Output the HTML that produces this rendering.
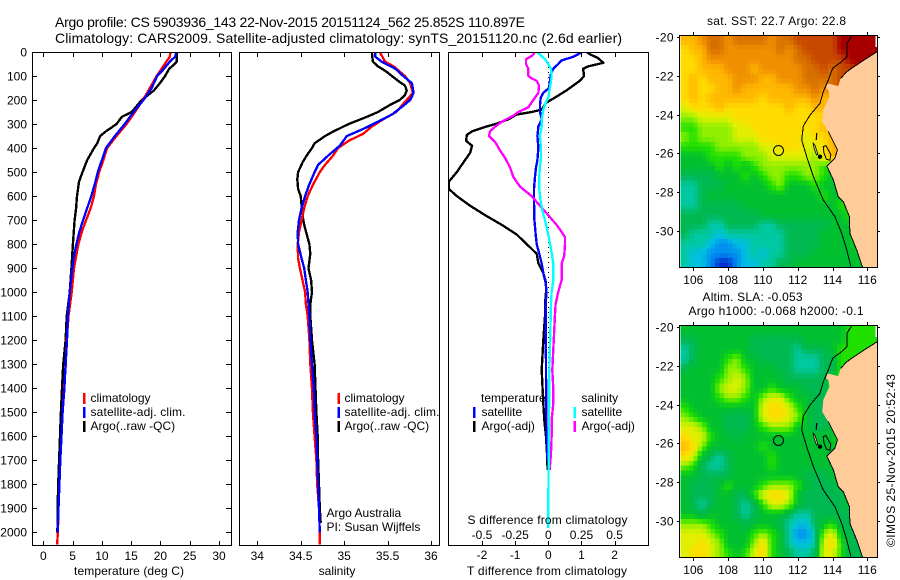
<!DOCTYPE html>
<html lang="en">
<head>
<meta charset="utf-8">
<title>Argo profile 5903936_143</title>
<style>
html,body{margin:0;padding:0;background:#fff;}
svg{display:block;}
text{font-family:"Liberation Sans",sans-serif;font-size:12px;fill:#000;}
.t14{font-size:14px;}
</style>
</head>
<body>
<svg id="chart" xmlns="http://www.w3.org/2000/svg" width="900" height="580" viewBox="0 0 900 580">
<rect x="0" y="0" width="900" height="580" fill="#fff"/>
<text class="t14" x="55" y="27" textLength="470">Argo profile: CS 5903936_143 22-Nov-2015 20151124_562 25.852S 110.897E</text>
<text class="t14" x="55" y="43" textLength="567">Climatology: CARS2009. Satellite-adjusted climatology: synTS_20151120.nc (2.6d earlier)</text>

<defs>
<clipPath id="clipA"><rect x="33" y="52" width="198" height="493"/></clipPath>
<clipPath id="clipB"><rect x="240" y="52" width="199" height="493"/></clipPath>
<clipPath id="clipC"><rect x="449" y="52" width="199" height="493"/></clipPath>
<clipPath id="clipM1"><rect x="680" y="35" width="197" height="232"/></clipPath>
<clipPath id="clipM2"><rect x="680" y="325" width="197" height="232"/></clipPath>
</defs>

<g id="panel-temp"></g>
<g id="panel-sal"></g>
<g id="panel-diff"></g>
<g id="map-sst"></g>
<g id="map-sla"></g>

<text x="129" y="575" text-anchor="middle" textLength="110">temperature (deg C)</text>
<text x="337" y="575" text-anchor="middle">salinity</text>
<text x="467" y="575" textLength="160">T difference from climatology</text>
<text x="467.5" y="524" textLength="160">S difference from climatology</text>

<g>
<rect x="83" y="393" width="2.5" height="11" fill="#f00"/>
<rect x="83" y="407" width="2.5" height="11" fill="#00f"/>
<rect x="83" y="421" width="2.5" height="11" fill="#000"/>
<text x="90.5" y="402">climatology</text>
<text x="90.5" y="416" textLength="95">satellite-adj. clim.</text>
<text x="90.5" y="430">Argo(..raw -QC)</text>
</g>
<g>
<rect x="337.5" y="393" width="2.5" height="11" fill="#f00"/>
<rect x="337.5" y="407" width="2.5" height="11" fill="#00f"/>
<rect x="337.5" y="421" width="2.5" height="11" fill="#000"/>
<text x="344.5" y="402">climatology</text>
<text x="344.5" y="416" textLength="95">satellite-adj. clim.</text>
<text x="344.5" y="430">Argo(..raw -QC)</text>
<text x="326.5" y="517">Argo Australia</text>
<text x="326.5" y="531">PI: Susan Wijffels</text>
</g>
<g>
<text x="481" y="402">temperature</text>
<text x="581.5" y="402">salinity</text>
<rect x="473" y="407" width="2.5" height="11" fill="#00f"/>
<rect x="473" y="421" width="2.5" height="11" fill="#000"/>
<rect x="573.5" y="407" width="2.5" height="11" fill="#0ff"/>
<rect x="573.5" y="421" width="2.5" height="11" fill="#f0f"/>
<text x="481.5" y="416">satellite</text>
<text x="481.5" y="430">Argo(-adj)</text>
<text x="581.5" y="416">satellite</text>
<text x="581.5" y="430">Argo(-adj)</text>
</g>

<text x="707" y="25" textLength="139">sat. SST: 22.7 Argo: 22.8</text>
<text x="702.5" y="301" textLength="100">Altim. SLA: -0.053</text>
<text x="688.5" y="315" textLength="175">Argo h1000: -0.068 h2000: -0.1</text>
<text transform="translate(895,547) rotate(-90)" textLength="173">©IMOS 25-Nov-2015 20:52:43</text>
</svg>

<script>
// ---- depth axis ----
const depthTicks = [0,100,200,300,400,500,600,700,800,900,1000,1100,1200,1300,1400,1500,1600,1700,1800,1900,2000];

// ---- temperature panel ----
const tempTicks = [0,5,10,15,20,25,30];
const tempArgoDepth = [0,40,55,70,100,130,160,200,250,270,300,330,350,380,400,450,500,540,600,650,700,800,900,1000,1100,1200,1300,1400,1500,1600,1700,1800,1900,2000];
const tempArgo = [22.8,22.8,22.2,21.5,20.8,19.9,18.9,16.8,15.1,13.4,12.5,10.7,9.7,9.2,8.65,7.5,6.7,6.1,5.75,5.6,5.35,5.05,4.8,4.5,4.0,3.8,3.4,3.2,3.0,2.85,2.7,2.55,2.45,2.4];
const tempClimDepth = [0,20,40,70,100,150,200,250,300,350,400,450,500,550,600,650,700,750,800,850,900,1000,1100,1200,1300,1400,1500,1600,1700,1800,1900,2000,2050];
const tempClim = [21.7,21.6,21.0,20.2,19.35,18.2,17.0,15.65,14.2,12.5,10.9,10.25,9.55,9.0,8.65,8.1,7.3,6.55,6.0,5.6,5.25,4.85,4.3,4.0,3.85,3.55,3.3,3.1,2.9,2.75,2.6,2.5,2.35];
const tempSatDepth = [0,20,40,70,100,150,200,250,300,350,400,450,500,550,600,650,700,750,800,850,900,1000,1100,1200,1300,1400,1500,1600,1700,1800,1900,2000];
const tempSat = [22.7,22.5,21.6,20.6,19.45,18.5,17.1,15.4,13.9,12.2,10.7,10.0,9.3,8.8,8.2,7.5,6.8,6.15,5.65,5.25,4.95,4.5,4.2,4.05,3.8,3.6,3.3,3.1,2.9,2.75,2.6,2.45];

// ---- salinity panel ----
const salTicks = [34,34.5,35,35.5,36];
const salArgoDepth = [0,40,60,80,100,120,140,160,180,200,220,250,270,300,330,350,380,400,430,460,500,530,570,600,640,680,720,760,800,840,900,950,1000,1050,1100,1200,1300,1400,1500,1600,1700,1800,1900,1960];
const salArgo = [35.32,35.33,35.39,35.48,35.55,35.62,35.70,35.72,35.70,35.64,35.53,35.39,35.26,35.05,34.88,34.78,34.66,34.63,34.57,34.52,34.47,34.46,34.47,34.5,34.51,34.52,34.54,34.57,34.6,34.61,34.59,34.62,34.63,34.61,34.61,34.63,34.66,34.67,34.68,34.695,34.70,34.71,34.72,34.73];
const salClimDepth = [0,40,60,100,130,170,200,250,280,310,340,370,400,430,470,500,550,600,650,700,750,800,860,900,950,1000,1050,1100,1200,1300,1400,1500,1600,1700,1800,1900,2000,2050];
const salClim = [35.41,35.47,35.57,35.70,35.76,35.79,35.72,35.6,35.45,35.32,35.22,35.05,34.93,34.875,34.78,34.72,34.645,34.58,34.54,34.51,34.48,34.465,34.47,34.49,34.52,34.55,34.56,34.58,34.6,34.61,34.63,34.64,34.66,34.68,34.69,34.71,34.72,34.72];
const salSatDepth = [0,20,40,70,100,130,170,200,230,260,290,320,350,390,430,470,500,550,600,650,700,750,800,860,900,950,1000,1050,1100,1200,1300,1400,1500,1600,1700,1800,1900,2000];
const salSat = [35.36,35.36,35.43,35.59,35.68,35.78,35.80,35.76,35.66,35.55,35.39,35.22,35.03,34.95,34.82,34.70,34.66,34.6,34.55,34.51,34.48,34.465,34.47,34.51,34.54,34.56,34.58,34.59,34.6,34.61,34.63,34.65,34.66,34.68,34.69,34.7,34.71,34.72];

// ---- difference panel ----
const diffTTicks = [-2,-1,0,1,2];
const diffSTicks = [-0.5,-0.25,0,0.25,0.5];
const diffTArgoDepth = [0,10,25,45,60,70,100,120,140,160,190,210,240,250,260,280,300,310,330,345,370,390,420,460,500,540,570,600,640,680,720,760,800,840,880,920,960,1000,1050,1100,1200,1324,1463,1532,1601,1671,1740];
const diffTArgo = [1.16,1.26,1.5,1.66,1.2,1.05,1.08,0.95,0.75,0.55,0.2,-0.05,-0.2,-0.5,-0.95,-1.2,-1.6,-1.86,-2.3,-2.46,-2.48,-2.3,-2.36,-2.56,-2.76,-3,-3,-2.76,-2.36,-1.9,-1.4,-0.95,-0.65,-0.35,-0.3,-0.15,-0.07,-0.07,-0.1,-0.1,-0.15,-0.2,-0.15,-0.12,-0.07,-0.04,-0.02];
const diffTSatDepth = [0,10,20,35,50,70,90,120,150,170,190,220,250,280,310,350,400,450,480,520,570,620,700,760,800,840,880,920,960,1000,1050,1324,1463,1601,1700];
const diffTSat = [1.0,0.9,0.75,0.4,0.3,0.15,0.08,0.05,0.02,-0.15,-0.23,-0.25,-0.25,-0.2,-0.3,-0.33,-0.3,-0.33,-0.37,-0.4,-0.43,-0.43,-0.42,-0.38,-0.35,-0.27,-0.2,-0.15,-0.08,-0.05,-0.08,-0.07,-0.06,-0.05,-0.02];
const diffSSatDepth = [0,10,30,50,70,100,130,160,190,210,240,280,310,350,400,440,480,520,570,620,660,700,760,820,880,950,1000,1050,1324,1879,1982];
const diffSSat = [-0.088,-0.063,-0.025,0,0.02,0.025,0.018,0.008,0,-0.018,-0.038,-0.05,-0.05,-0.063,-0.055,-0.055,-0.063,-0.068,-0.068,-0.058,-0.045,-0.025,0,0.02,0.038,0.038,0.025,0.02,0.008,0,0];
const diffSArgoDepth = [0,15,30,50,70,100,110,120,140,170,200,230,250,265,290,310,330,350,375,410,440,480,520,560,600,640,680,720,770,800,850,880,950,1000,1050,1100,1324,1400,1463,1532,1601,1671,1740];
const diffSArgo = [-0.1,-0.12,-0.168,-0.168,-0.15,-0.15,-0.125,-0.088,-0.07,-0.075,-0.113,-0.15,-0.226,-0.264,-0.35,-0.4,-0.44,-0.447,-0.4,-0.364,-0.327,-0.289,-0.264,-0.214,-0.126,-0.063,0,0.063,0.126,0.126,0.12,0.1,0.1,0.075,0.055,0.05,0.03,0.038,0.038,0.025,0.025,0.02,0.01];

// ---- maps ----
const lonTicks = [106,108,110,112,114,116];
const latTicks = [-20,-22,-24,-26,-28,-30];
const levelColors = ['#0030d0','#0090f0','#00c0e0','#00c8a0','#00b850','#00c030','#20e000','#90f000','#e0f000','#ffdc00','#ffb800','#f09000','#d87000','#c84800','#a80000'];
const sstLevels = [
[10,10,11,12,12,11,12,12,12,12,11,12,12,13,13,13,13,13,14,14,14,14,14],
[9,10,10,12,12,11,11,11,11,11,11,12,11,12,13,13,13,13,14,14,14,14,14],
[9,9,10,11,11,11,11,11,11,11,11,11,11,12,12,13,13,13,13,14,14,14,14],
[9,9,10,10,10,11,11,11,10,11,11,11,11,11,12,12,13,12,13,13,14,14,14],
[9,10,9,10,10,10,11,11,11,10,10,11,11,11,12,12,12,12,13,13,14,14,14],
[9,10,9,9,10,10,11,10,10,10,10,10,10,11,11,12,11,12,13,13,13,13,13],
[9,10,9,10,10,10,10,10,10,9,10,10,10,10,10,11,10,10,11,11,11,11,11],
[8,9,9,9,10,9,9,9,9,9,9,9,10,9,9,10,10,10,10,10,10,10,10],
[7,7,8,8,8,8,9,9,9,9,9,9,9,9,9,9,9,10,10,10,10,10,10],
[6,6,7,7,7,7,8,8,9,9,9,9,9,9,9,9,10,10,10,10,10,10,10],
[7,6,7,7,7,7,8,8,8,9,9,9,9,9,8,9,9,10,11,11,11,11,11],
[6,6,6,6,7,7,7,7,7,8,8,9,9,9,8,8,9,10,11,11,11,11,11],
[5,5,5,6,6,6,6,7,7,7,8,8,8,8,8,7,9,10,10,10,10,10,10],
[5,5,5,5,6,5,6,5,6,7,7,7,7,7,7,7,6,6,6,6,6,6,6],
[4,4,4,4,5,5,5,6,5,6,7,7,6,6,7,7,6,5,6,6,6,6,6],
[3,3,4,4,4,5,5,5,5,5,6,7,5,5,5,6,5,5,5,6,6,6,6],
[3,3,4,5,5,5,5,5,5,5,5,5,5,5,5,5,6,5,5,5,6,6,6],
[3,3,4,4,4,4,4,5,5,5,5,5,5,5,5,5,5,5,6,6,6,6,6],
[4,4,4,4,4,4,4,4,4,5,5,5,5,5,5,5,5,5,5,6,6,6,6],
[4,4,4,3,3,4,4,4,4,3,3,4,4,4,4,4,4,5,5,5,6,6,6],
[4,3,3,3,2,3,3,3,3,3,3,3,4,4,4,4,5,5,5,5,6,6,6],
[3,3,3,2,1,1,2,2,3,3,3,3,4,4,4,4,5,5,5,5,6,6,6],
[3,2,2,1,1,1,1,2,3,2,3,3,4,4,4,5,5,5,5,5,5,6,6],
[3,2,2,1,0,0,1,2,2,3,3,4,4,5,5,5,5,5,5,5,5,5,6]
];
const slaLevels = [
[5,5,5,5,5,5,5,5,5,5,5,5,5,5,5,5,5,5,5,6,6,6,6],
[4,4,5,5,5,5,5,5,4,4,4,4,4,4,5,5,5,5,5,6,6,6,6],
[3,4,5,5,5,5,5,5,4,4,4,4,4,3,4,4,4,5,6,6,6,6,6],
[3,4,5,5,5,6,7,5,5,4,4,4,4,3,3,3,4,4,6,6,6,6,6],
[4,5,5,5,5,7,7,6,5,5,5,4,4,3,3,3,4,4,6,6,6,6,6],
[5,5,5,5,6,7,8,7,5,5,5,5,4,4,4,4,4,5,6,6,6,6,6],
[5,5,5,5,7,8,8,7,5,5,6,5,5,5,4,4,4,6,6,6,6,6,6],
[5,5,5,5,6,7,7,6,5,7,8,8,6,5,5,4,4,4,6,6,6,6,6],
[6,5,5,5,5,5,5,5,5,8,9,9,8,6,5,4,4,4,5,6,6,6,6],
[7,6,5,5,5,4,4,4,5,8,9,9,8,7,5,4,4,4,6,6,6,6,6],
[8,8,7,5,5,4,4,4,5,6,7,7,7,5,5,4,4,5,6,6,6,6,6],
[9,8,8,6,5,5,4,5,5,5,5,5,5,5,5,5,5,5,6,6,6,6,6],
[10,9,7,5,5,5,5,5,5,6,5,5,5,5,5,5,5,5,6,6,6,6,6],
[9,8,5,4,3,4,5,5,5,5,6,5,5,5,5,5,5,5,5,5,5,5,5],
[7,6,4,3,3,4,5,5,5,5,6,5,5,5,5,5,5,5,5,5,5,5,5],
[5,5,4,4,4,4,5,5,5,5,5,5,5,5,4,4,4,5,5,5,5,5,5],
[5,4,4,4,5,6,5,5,5,6,7,7,7,6,5,4,4,4,5,5,5,5,5],
[5,4,4,4,5,5,4,4,6,8,9,9,8,5,4,4,4,4,4,5,5,5,5],
[5,4,3,4,5,5,4,3,4,6,8,8,7,5,4,4,4,4,4,5,5,5,5],
[5,5,4,5,5,5,4,3,4,5,5,5,4,3,3,4,4,4,4,4,5,5,5],
[7,7,7,6,5,5,5,4,5,5,5,4,3,2,2,4,5,6,4,4,4,5,5],
[8,8,8,7,6,5,5,5,6,7,6,5,3,1,1,3,7,8,5,4,4,5,5],
[8,8,9,8,7,5,5,5,7,9,6,5,3,2,2,3,8,9,6,4,4,5,5],
[8,9,9,8,7,6,5,6,8,9,6,5,4,3,3,4,8,8,6,4,4,5,5]
];
const coastLon = [116.57,115.97,115.39,114.82,114.47,114.33,114.05,113.70,113.63,113.76,113.82,113.47,113.41,113.76,114.28,114.14,113.67,114.05,114.33,114.62,114.97,115.0,115.39,115.73];
const coastLat = [-20.76,-21.10,-21.44,-21.79,-22.13,-22.53,-22.47,-22.39,-22.65,-22.73,-23.08,-23.76,-24.37,-24.88,-25.82,-26.25,-26.65,-27.37,-28.23,-28.49,-29.26,-30.12,-30.98,-31.87];
const isobathLon = [115.10,114.82,114.82,114.53,114.01,113.76,113.47,113.28,112.71,112.32,112.23,112.52,112.90,113.47,114.14,114.53,114.82,115.06];
const isobathLat = [-19.95,-20.33,-21.01,-21.27,-21.61,-22.22,-22.82,-23.42,-24.02,-24.59,-25.31,-26.17,-27.20,-28.40,-29.26,-30.12,-30.98,-31.84];
const islandLon = [112.88,113.0,113.16,113.08,112.95];
const islandLat = [-25.45,-25.6,-26.05,-26.08,-25.75];
const peninsulaLon = [113.47,113.62,113.9,113.85,113.65,113.5];
const peninsulaLat = [-25.65,-25.6,-26.05,-26.35,-26.3,-25.95];
const profileLon = 110.897;
const profileLat = -25.852;

// ---- axis functions ----
const NS = 'http://www.w3.org/2000/svg';
const yDepth = d => 52 + 0.2402 * d;
const xTemp = t => 43.3 + 5.857 * t;
const xSal = s => 257.3 + 86.85 * (s - 34);
const xDiffT = t => 548.3 + 33.15 * t;
const xDiffS = s => 548.3 + 132.6 * s;
const xLon = lon => 693.3 + 17.4 * (lon - 106);
const yLat = (lat, top) => top + 2 + 19.4 * (-20 - lat);

function svgEl(tag, parent, name) {
  const el = document.createElementNS(NS, tag);
  
  
  parent.appendChild(el);
  return el;
}
function setA(el, props) {
  for (const k in props) el.setAttribute(k, props[k]);
  return el;
}
function seg(parent, x1, y1, x2, y2, name) {
  return setA(svgEl('line', parent, name), {x1, y1, x2, y2, stroke: '#000', 'stroke-width': 1, 'shape-rendering': 'crispEdges'});
}
function label(parent, x, y, str, anchor, name) {
  const t = setA(svgEl('text', parent, name), {x, y, 'text-anchor': anchor});
  t.textContent = str;
  return t;
}
function frame(parent, x0, x1, y0, y1) {
  setA(svgEl('rect', parent, 'plot-frame'), {x: x0, y: y0, width: x1 - x0, height: y1 - y0, fill: 'none', stroke: '#000', 'stroke-width': 1, 'shape-rendering': 'crispEdges'});
}
function series(parent, depths, vals, xf, color, clip, name) {
  const pts = vals.map((v, i) => xf(v).toFixed(1) + ',' + yDepth(depths[i]).toFixed(1)).join(' ');
  setA(svgEl('polyline', parent, name), {points: pts, fill: 'none', stroke: color, 'stroke-width': 2.35, 'stroke-linejoin': 'round', 'clip-path': 'url(#' + clip + ')', 'shape-rendering': 'crispEdges'});
}

// ---- temperature panel ----
const gT = document.getElementById('panel-temp');
series(gT, tempArgoDepth, tempArgo, xTemp, '#000', 'clipA', 'temperature-argo-line');
series(gT, tempClimDepth, tempClim, xTemp, '#f00', 'clipA', 'temperature-climatology-line');
series(gT, tempSatDepth, tempSat, xTemp, '#00f', 'clipA', 'temperature-satellite-line');
frame(gT, 32.5, 231.5, 52.5, 545.5);
depthTicks.forEach(d => {
  const y = Math.round(yDepth(d)) + 0.5;
  seg(gT, 32.5, y, 37, y, 'depth-tick-left');
  seg(gT, 226, y, 231.5, y, 'depth-tick-right');
  label(gT, 27, y + 4, String(d), 'end', 'depth-tick-label');
});
tempTicks.forEach(t => {
  const x = Math.round(xTemp(t)) + 0.5;
  seg(gT, x, 52.5, x, 57, 'temperature-tick-top');
  seg(gT, x, 541, x, 545.5, 'temperature-tick-bottom');
  label(gT, xTemp(t), 560, String(t), 'middle', 'temperature-tick-label');
});

// ---- salinity panel ----
const gS = document.getElementById('panel-sal');
series(gS, salArgoDepth, salArgo, xSal, '#000', 'clipB', 'salinity-argo-line');
series(gS, salClimDepth, salClim, xSal, '#f00', 'clipB', 'salinity-climatology-line');
series(gS, salSatDepth, salSat, xSal, '#00f', 'clipB', 'salinity-satellite-line');
frame(gS, 239.5, 439.5, 52.5, 545.5);
salTicks.forEach(s => {
  const x = Math.round(xSal(s)) + 0.5;
  seg(gS, x, 52.5, x, 57, 'salinity-tick-top');
  seg(gS, x, 541, x, 545.5, 'salinity-tick-bottom');
  label(gS, xSal(s), 560, String(s), 'middle', 'salinity-tick-label');
});

// ---- difference panel ----
const gD = document.getElementById('panel-diff');
const zeroLine = seg(gD, 548.5, 52, 548.5, yDepth(1750), 'zero-reference-line');
zeroLine.setAttribute('stroke-dasharray', '1 4');
series(gD, diffTArgoDepth, diffTArgo, xDiffT, '#000', 'clipC', 'difference-t-argo-line');
series(gD, diffTSatDepth, diffTSat, xDiffT, '#00f', 'clipC', 'difference-t-satellite-line');
series(gD, diffSArgoDepth, diffSArgo, xDiffS, '#f0f', 'clipC', 'difference-s-argo-line');
series(gD, diffSSatDepth, diffSSat, xDiffS, '#0ff', 'clipC', 'difference-s-satellite-line');
frame(gD, 448.5, 648.5, 52.5, 545.5);
diffTTicks.forEach(t => {
  const x = Math.round(xDiffT(t)) + 0.5;
  seg(gD, x, 52.5, x, 57, 'difference-tick-top');
  seg(gD, x, 541, x, 545.5, 'difference-tick-bottom');
  label(gD, xDiffT(t), 559, String(t), 'middle', 't-difference-tick-label');
});
diffSTicks.forEach(s => {
  label(gD, xDiffS(s), 539, String(s), 'middle', 's-difference-tick-label');
});

// ---- maps ----
function hexToRgb(h) {
  return [parseInt(h.slice(1, 3), 16), parseInt(h.slice(3, 5), 16), parseInt(h.slice(5, 7), 16)];
}
function levelColor(v) {
  const top = levelColors.length - 1;
  const c = Math.max(0, Math.min(top, v));
  const i = Math.min(top - 1, Math.floor(c));
  const f = c - i;
  const a = hexToRgb(levelColors[i]);
  const b = hexToRgb(levelColors[i + 1]);
  return 'rgb(' + a.map((p, k) => Math.round(p + (b[k] - p) * f)).join(',') + ')';
}
function sampleLevel(levels, u, v) {
  const maxR = levels.length - 1;
  const maxC = levels[0].length - 1;
  const cu = Math.max(0, Math.min(maxC, u));
  const cv = Math.max(0, Math.min(maxR, v));
  const c0 = Math.floor(cu);
  const r0 = Math.floor(cv);
  const c1 = Math.min(maxC, c0 + 1);
  const r1 = Math.min(maxR, r0 + 1);
  const fu = cu - c0;
  const fv = cv - r0;
  return (levels[r0][c0] * (1 - fu) + levels[r0][c1] * fu) * (1 - fv) + (levels[r1][c0] * (1 - fu) + levels[r1][c1] * fu) * fv;
}
function polyline(parent, lons, lats, top, from, to, name) {
  const pts = lons.slice(from, to).map((lon, i) => xLon(lon).toFixed(1) + ',' + yLat(lats[from + i], top).toFixed(1)).join(' ');
  const el = svgEl('polyline', parent, name);
  setA(el, {points: pts, fill: 'none', stroke: '#000', 'stroke-width': 1, 'shape-rendering': 'crispEdges'});
}
function drawMap(parent, levels, top, clip) {
  const cells = svgEl('g', parent, 'map-cells');
  cells.setAttribute('clip-path', 'url(#' + clip + ')');
  const cols = levels[0].length * 2;
  const rows = levels.length * 2;
  for (let r = 0; r < rows; r++) {
    for (let c = 0; c < cols; c++) {
      const lon = 105.25 + c * 0.25;
      const lat = -19.9 - r * 0.25;
      const u = (c + 0.5) / 2 - 0.5;
      const v = (r + 0.5) / 2 - 0.5;
      const cell = svgEl('rect', cells, 'map-cell');
      setA(cell, {x: xLon(lon).toFixed(2), y: yLat(lat, top).toFixed(2), width: 4.75, height: 5.25, fill: levelColor(sampleLevel(levels, u, v)), 'shape-rendering': 'crispEdges'});
    }
  }
  const geo = svgEl('g', parent, 'map-geography');
  geo.setAttribute('clip-path', 'url(#' + clip + ')');
  const coastPts = coastLon.map((lon, i) => xLon(lon).toFixed(1) + ',' + yLat(coastLat[i], top).toFixed(1));
  const whiteSliver = svgEl('rect', geo, 'coast-sliver');
  setA(whiteSliver, {x: 875.5, y: top, width: 2, height: 12, fill: '#fff'});
  const land = svgEl('polygon', geo, 'land');
  setA(land, {points: coastPts.join(' ') + ' 880,' + (top + 233) + ' 880,' + (yLat(coastLat[0], top)).toFixed(1), fill: '#ffcc99'});
  polyline(geo, coastLon, coastLat, top, 0, 5, 'north-coastline');
  polyline(geo, coastLon, coastLat, top, 13, coastLon.length, 'south-coastline');
  polyline(geo, isobathLon, isobathLat, top, 0, isobathLon.length, 'isobath');
  const isl = svgEl('polygon', geo, 'dirk-hartog-island');
  setA(isl, {points: islandLon.map((lon, i) => xLon(lon).toFixed(1) + ',' + yLat(islandLat[i], top).toFixed(1)).join(' '), fill: '#ffcc99', stroke: '#000', 'stroke-width': 0.8});
  const pen = svgEl('polygon', geo, 'peron-peninsula');
  setA(pen, {points: peninsulaLon.map((lon, i) => xLon(lon).toFixed(1) + ',' + yLat(peninsulaLat[i], top).toFixed(1)).join(' '), fill: 'none', stroke: '#000', 'stroke-width': 1});
  const blob = svgEl('circle', geo, 'shallow-blob');
  setA(blob, {cx: xLon(113.28).toFixed(1), cy: yLat(-26.17, top).toFixed(1), r: 2.2, fill: '#000'});
  const dash = svgEl('line', geo, 'shoal-mark');
  setA(dash, {x1: xLon(113.09).toFixed(1), y1: yLat(-24.95, top).toFixed(1), x2: xLon(113.07).toFixed(1), y2: yLat(-25.31, top).toFixed(1), stroke: '#000', 'stroke-width': 1.2});
  frame(parent, 679.5, 877.5, top + 0.5, top + 232.5);
  lonTicks.forEach(lon => {
    const x = Math.round(xLon(lon)) + 0.5;
    seg(parent, x, top - 3, x, top, 'longitude-tick-top');
    seg(parent, x, top + 233, x, top + 236, 'longitude-tick-bottom');
    label(parent, xLon(lon), top + 249, String(lon), 'middle', 'longitude-tick-label');
  });
  latTicks.forEach(lat => {
    const y = Math.round(yLat(lat, top)) + 0.5;
    seg(parent, 677, y, 679.5, y, 'latitude-tick-left');
    seg(parent, 877.5, y, 880, y, 'latitude-tick-right');
    const t = label(parent, 673.5, y + 4, String(lat), 'end', 'latitude-tick-label');
    t.setAttribute('textLength', '18');
  });
  const marker = svgEl('circle', parent, 'profile-location-marker');
  setA(marker, {cx: xLon(profileLon).toFixed(1), cy: yLat(profileLat, top).toFixed(1), r: 5, fill: 'none', stroke: '#000', 'stroke-width': 1});
}
drawMap(document.getElementById('map-sst'), sstLevels, 35, 'clipM1');
drawMap(document.getElementById('map-sla'), slaLevels, 325, 'clipM2');
</script>
</body>
</html>
